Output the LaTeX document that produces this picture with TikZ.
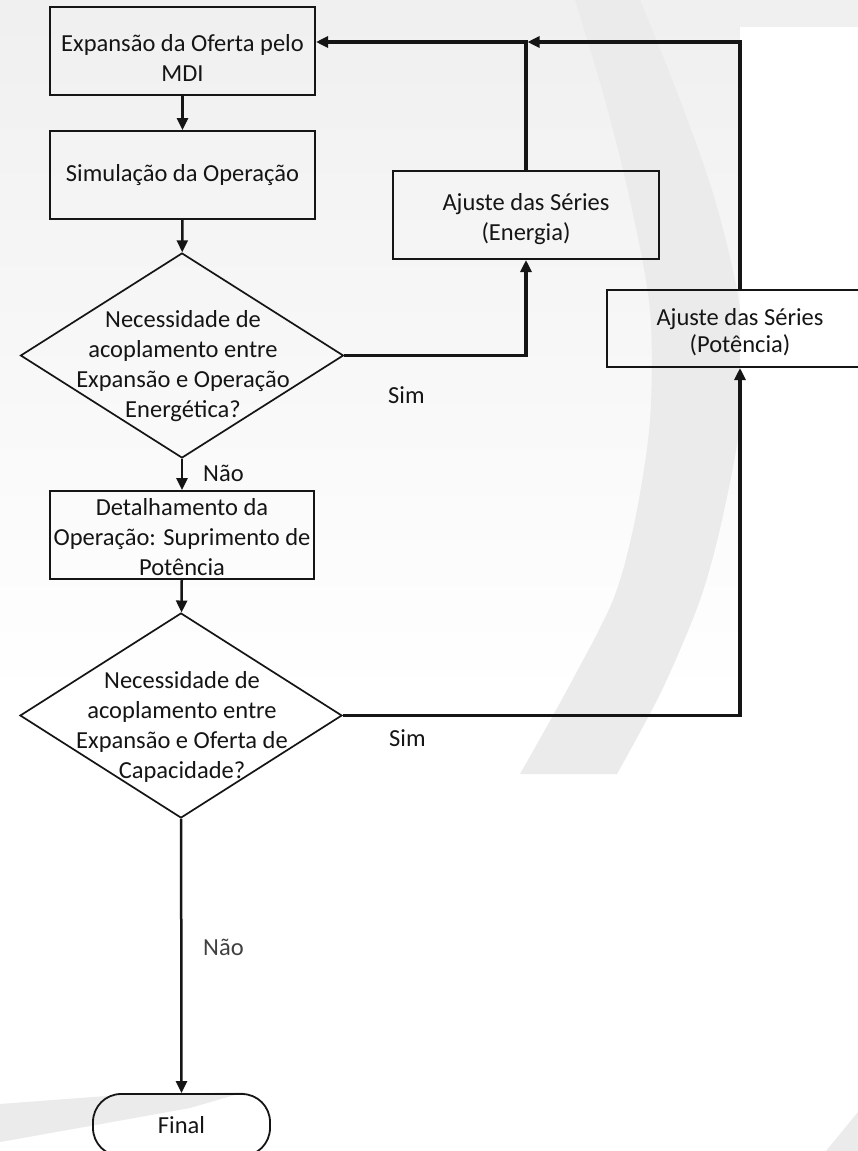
\documentclass[tikz,border=0pt]{standalone}
\usepackage{fontspec}
\setmainfont{Carlito}
\usetikzlibrary{shapes.geometric,arrows.meta,calc}

\definecolor{wmgrey}{HTML}{EBEBEB}
\definecolor{ink}{HTML}{151515}

\begin{document}
\begin{tikzpicture}[x=1pt,y=-1pt,
  tx/.style={font=\fontsize{24.5}{30}\selectfont, text=ink, align=center, inner sep=0pt},
  lbl/.style={font=\fontsize{24.5}{30}\selectfont, text=ink, inner sep=0pt, anchor=west},
  procbox/.style={draw=ink, line width=2pt, minimum width=265pt, minimum height=88pt, inner sep=0pt},
  decision/.style={draw=ink, line width=1.7pt, diamond, minimum width=323pt, minimum height=205pt, inner sep=0pt},
  terminal/.style={draw=ink, line width=1.8pt, rounded corners=28pt, minimum width=177pt, minimum height=62pt, inner sep=0pt},
  flow/.style={draw=ink, line width=2.5pt, -{Triangle[length=12pt,width=11pt]}},
  loopline/.style={draw=ink, line width=3.2pt, -{Triangle[length=12pt,width=11pt]}}
]
% page and faint watermark background
\useasboundingbox (0,0) rectangle (858,1151);
\fill[white] (0,0) rectangle (858,1151);
\shade[top color=black!6, bottom color=white] (0,0) rectangle (858,700);
\fill[wmgrey] plot[smooth] coordinates {(575,0) (605,100) (630,200) (650,310) (650,420) (635,520) (613,600) (567,690) (520,774)}
  -- plot[smooth] coordinates {(617,774) (662,690) (700,600) (722,520) (740,420) (740,310) (715,200) (680,100) (640,0)} -- cycle;
\fill[white] (740,27) rectangle (858,1151);
\fill[wmgrey] (0,1104) -- (120,1095) -- (245,1092) -- (190,1108) -- (90,1126) -- (0,1142) -- cycle;
\fill[wmgrey] (826,1151) -- (858,1112) -- (858,1151) -- cycle;

% process boxes
\node[procbox] (b1) at (182.5,50.5) {};
\node[tx] (b1t) at (182.5,58) {Expansão da Oferta pelo\\MDI};
\node[procbox] (b2) at (182.5,175) {};
\node[tx] (b2t) at (182.5,175) {Simulação da Operação};
\node[decision] (d1) at (182,355.5) {};
\node[tx] (d1t) at (183,366) {Necessidade de\\acoplamento entre\\Expansão e Operação\\Energética?};
\node[procbox, minimum width=264pt] (b3) at (182,535) {};
\node[tx] (b3t) at (182,537.5) {Detalhamento da\\Operação: Suprimento de\\Potência};
\node[decision, minimum width=322pt] (d2) at (181,715.5) {};
\node[tx] (d2t) at (182,727) {Necessidade de\\acoplamento entre\\Expansão e Oferta de\\Capacidade?};
\node[terminal] (fin) at (181.5,1125) {};
\node[tx] (fint) at (181.5,1125) {Final};

\node[procbox, minimum width=266pt] (e1) at (526,215) {};
\node[tx] (e1t) at (526,219) {Ajuste das Séries\\(Energia)};
\node[procbox, minimum width=266pt, minimum height=77pt] (p1) at (740,328.5) {};
\node[tx, font=\fontsize{24.5}{27}\selectfont] (p1t) at (740,332) {Ajuste das Séries\\(Potência)};

% branch labels
\node[lbl] (nao1) at (203,473) {Não};
\node[lbl] (sim1) at (388,395) {Sim};
\node[lbl] (sim2) at (389,738) {Sim};
\node[lbl, text=black!75] (nao2) at (203,947) {Não};

% junction point of the feedback loops
\coordinate (jn) at (527.5,42);

% main flow
\draw[flow] (b1) -- (b2);
\draw[flow] (b2) -- (d1);
\draw[flow] (d1) -- (b3);
\draw[flow] (b3) -- (d2);
\draw[flow] (d2) -- (fin);

% feedback loops
\draw[loopline] (d1.east) -| (e1.south);
\draw[loopline] (e1.north) |- (b1.east |- jn);
\draw[loopline] (d2.east) -| (p1.south);
\draw[loopline] (p1.north) |- (jn);
\end{tikzpicture}
\end{document}
